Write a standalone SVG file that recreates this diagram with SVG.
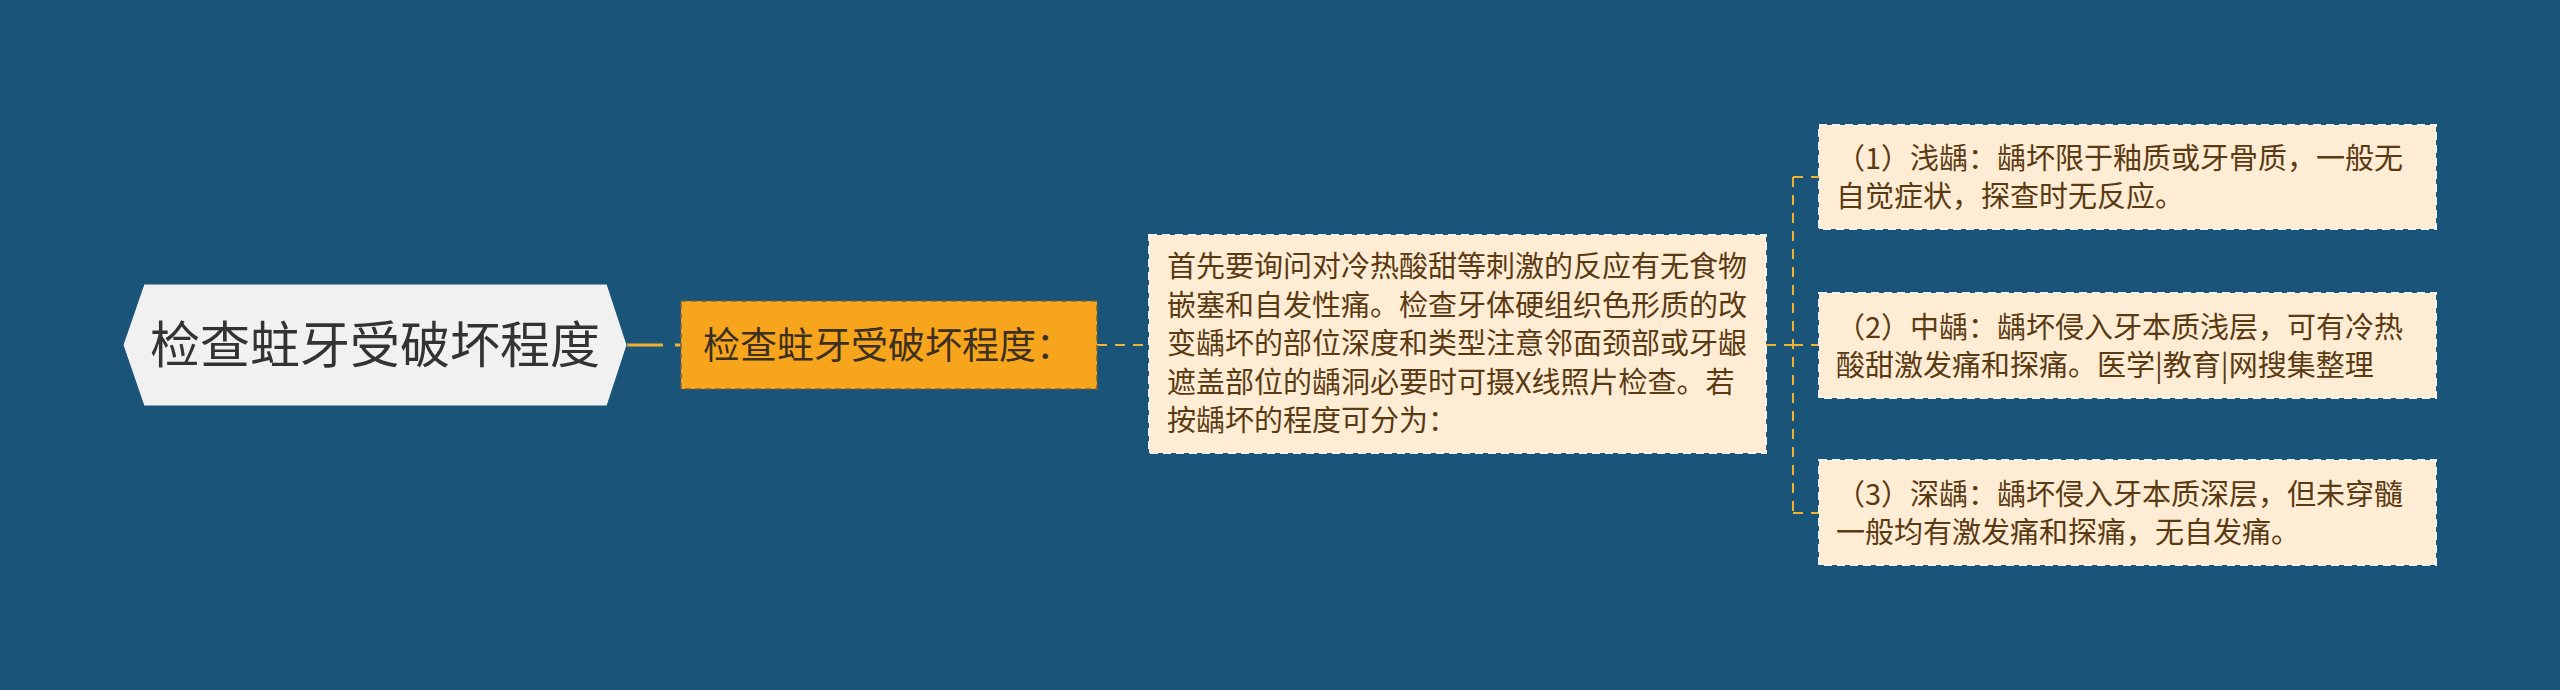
<svg xmlns="http://www.w3.org/2000/svg" width="2560" height="690" viewBox="0 0 2560 690">
<style>
.bg{fill:#1a5478}
.cjk{font-family:"Noto Sans CJK SC","Liberation Sans",sans-serif}
.root-shape{fill:#f1f1f1;stroke:#1a5478;stroke-width:1}
.root-text{font-size:50px;fill:#333333}
.sub-shape{fill:#f8a51e;stroke:#7a6235;stroke-width:1.5;stroke-dasharray:6 4}
.sub-text{font-size:37px;fill:#3d3020}
.leaf-shape{fill:#feedd4;stroke:#f3f3f3;stroke-width:2;stroke-dasharray:8 5}
.leaf-text{font-size:29px;fill:#5a3a12}
.conn{fill:none;stroke:#f0b030;stroke-width:2;stroke-dasharray:10 8}
.conn-main{fill:none;stroke:#f0b030;stroke-width:3;stroke-dasharray:36 12}
</style>
<rect class="bg" x="0" y="0" width="2560" height="690"/>
<g id="connectors">
<path class="conn-main" d="M627 345 H681"/>
<path class="conn" d="M1097 345 H1149"/>
<path class="conn" d="M1766 345 H1793"/>
<path class="conn" d="M1793 177 V513"/>
<path class="conn" d="M1793 177 H1819"/>
<path class="conn" d="M1793 345 H1819"/>
<path class="conn" d="M1793 513 H1819"/>
</g>
<g id="root">
<polygon class="root-shape" points="123,345 144,284 607,284 627,345 607,406 144,406"/>
<text class="cjk root-text" x="375" y="363" text-anchor="middle">检查蛀牙受破坏程度</text>
</g>
<g id="sub">
<rect class="sub-shape" x="681" y="301" width="416" height="88"/>
<text class="cjk sub-text" x="703" y="359">检查蛀牙受破坏程度：</text>
</g>
<g id="detail">
<rect class="leaf-shape" x="1149" y="235" width="617" height="218"/>
<text class="cjk leaf-text" x="1167">
<tspan x="1167" y="277">首先要询问对冷热酸甜等刺激的反应有无食物</tspan>
<tspan x="1167" y="315.5">嵌塞和自发性痛。检查牙体硬组织色形质的改</tspan>
<tspan x="1167" y="354">变龋坏的部位深度和类型注意邻面颈部或牙龈</tspan>
<tspan x="1167" y="392.5">遮盖部位的龋洞必要时可摄X线照片检查。若</tspan>
<tspan x="1167" y="431">按龋坏的程度可分为：</tspan>
</text>
</g>
<g id="leaf1">
<rect class="leaf-shape" x="1819" y="125" width="617" height="104"/>
<text class="cjk leaf-text">
<tspan x="1836" y="169">（1）浅龋：龋坏限于釉质或牙骨质，一般无</tspan>
<tspan x="1836" y="207">自觉症状，探查时无反应。</tspan>
</text>
</g>
<g id="leaf2">
<rect class="leaf-shape" x="1819" y="293" width="617" height="105"/>
<text class="cjk leaf-text">
<tspan x="1836" y="337.5">（2）中龋：龋坏侵入牙本质浅层，可有冷热</tspan>
<tspan x="1836" y="375.5">酸甜激发痛和探痛。医学|教育|网搜集整理</tspan>
</text>
</g>
<g id="leaf3">
<rect class="leaf-shape" x="1819" y="460" width="617" height="105"/>
<text class="cjk leaf-text">
<tspan x="1836" y="504.5">（3）深龋：龋坏侵入牙本质深层，但未穿髓</tspan>
<tspan x="1836" y="542.5">一般均有激发痛和探痛，无自发痛。</tspan>
</text>
</g>
</svg>
